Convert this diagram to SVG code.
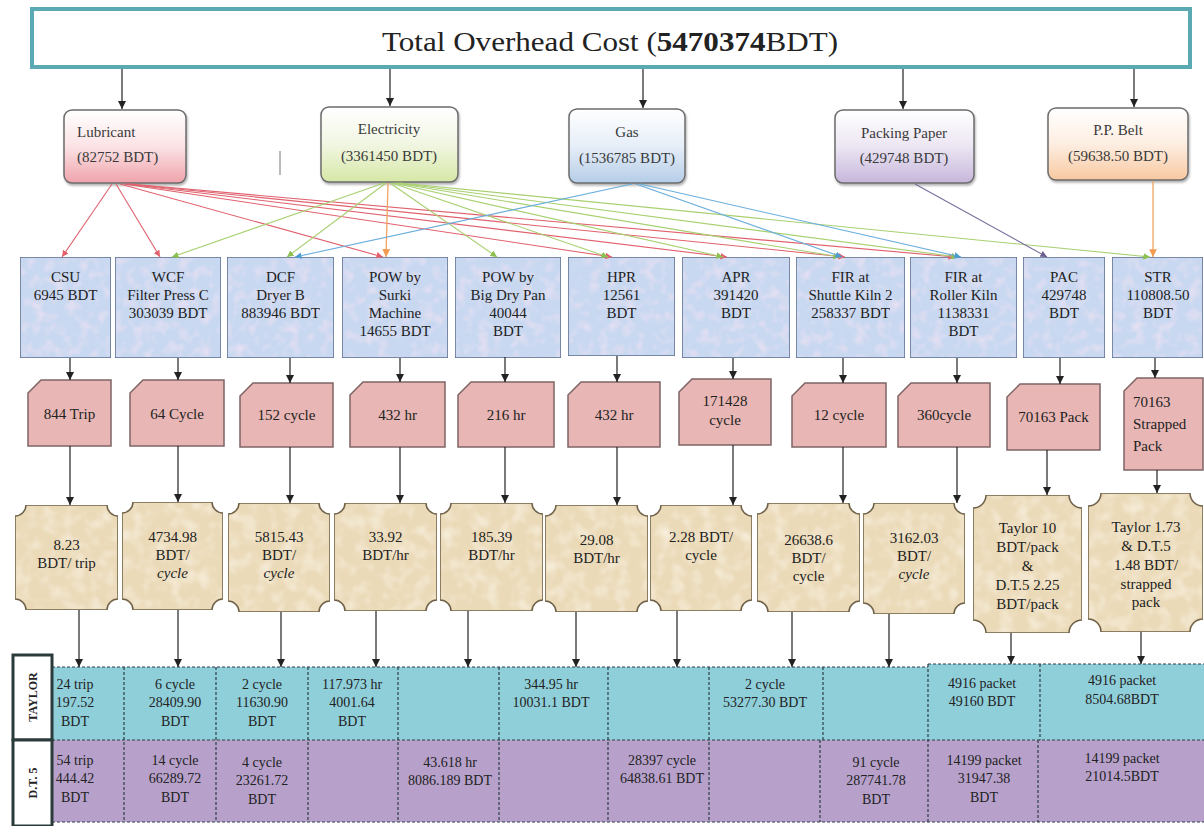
<svg xmlns="http://www.w3.org/2000/svg" width="1204" height="826" viewBox="0 0 1204 826">
<style>
text{font-family:"Liberation Serif","Times New Roman",serif;fill:#222;}
.cat{font-size:15px;fill:#3a3a3a;}
.act{font-size:15px;text-anchor:middle;}
.drv{font-size:15px;text-anchor:middle;}
.drvl{font-size:15px;text-anchor:start;}
.rate{font-size:15px;text-anchor:middle;}
.tb{font-size:14px;text-anchor:middle;}
.lbl{font-size:12px;font-weight:bold;text-anchor:middle;}
.actbox{fill:#c8d8f1;stroke:#5d6d8c;stroke-width:1.5;}
.drvbox{fill:#e8b6b4;stroke:#7e6464;stroke-width:1.5;}
.ratebox{fill:#ebdab8;stroke:#6e6048;stroke-width:1.5;}
.catbox{stroke:#6b6b6b;stroke-width:1.5;}
.blk{stroke:#222;stroke-width:1.2;fill:none;marker-end:url(#ab);}
.div{stroke:#2e3e48;stroke-width:1.2;stroke-dasharray:3 2;fill:none;}
.r{stroke:#e0626e;stroke-width:1.1;fill:none;marker-end:url(#mr);}
.g{stroke:#a8d070;stroke-width:1.1;fill:none;marker-end:url(#mg);}
.b{stroke:#6aaedc;stroke-width:1.1;fill:none;marker-end:url(#mb);}
.p{stroke:#7c6e9e;stroke-width:1.1;fill:none;marker-end:url(#mp);}
.o{stroke:#f2a460;stroke-width:1.3;fill:none;marker-end:url(#mo);}
</style>
<defs>
<marker id="ab" viewBox="0 0 10 10" refX="10" refY="5" markerWidth="7" markerHeight="7" orient="auto"><path d="M0,0 L10,5 L0,10 z" fill="#222"/></marker>
<marker id="mr" viewBox="0 0 10 10" refX="10" refY="5" markerWidth="6" markerHeight="6" orient="auto"><path d="M0,0 L10,5 L0,10 z" fill="#e0626e"/></marker>
<marker id="mg" viewBox="0 0 10 10" refX="10" refY="5" markerWidth="6" markerHeight="6" orient="auto"><path d="M0,0 L10,5 L0,10 z" fill="#8cc050"/></marker>
<marker id="mb" viewBox="0 0 10 10" refX="10" refY="5" markerWidth="6" markerHeight="6" orient="auto"><path d="M0,0 L10,5 L0,10 z" fill="#4e9ccf"/></marker>
<marker id="mp" viewBox="0 0 10 10" refX="10" refY="5" markerWidth="6" markerHeight="6" orient="auto"><path d="M0,0 L10,5 L0,10 z" fill="#6c5e90"/></marker>
<marker id="mo" viewBox="0 0 10 10" refX="10" refY="5" markerWidth="6" markerHeight="6" orient="auto"><path d="M0,0 L10,5 L0,10 z" fill="#f29a50"/></marker>
<linearGradient id="gRed" x1="0" y1="0" x2="0" y2="1"><stop offset="0" stop-color="#ffffff"/><stop offset="0.5" stop-color="#fbe3e5"/><stop offset="1" stop-color="#efa3ab"/></linearGradient>
<linearGradient id="gGreen" x1="0" y1="0" x2="0" y2="1"><stop offset="0" stop-color="#ffffff"/><stop offset="0.5" stop-color="#f1f6e2"/><stop offset="1" stop-color="#d6e8a6"/></linearGradient>
<linearGradient id="gBlue" x1="0" y1="0" x2="0" y2="1"><stop offset="0" stop-color="#ffffff"/><stop offset="0.5" stop-color="#e6eef8"/><stop offset="1" stop-color="#b5cde8"/></linearGradient>
<linearGradient id="gPurple" x1="0" y1="0" x2="0" y2="1"><stop offset="0" stop-color="#ffffff"/><stop offset="0.5" stop-color="#ece6f3"/><stop offset="1" stop-color="#c6b6db"/></linearGradient>
<linearGradient id="gOrange" x1="0" y1="0" x2="0" y2="1"><stop offset="0" stop-color="#ffffff"/><stop offset="0.5" stop-color="#fdeee2"/><stop offset="1" stop-color="#f8c8a0"/></linearGradient>
<filter id="sh" x="-10%" y="-10%" width="125%" height="130%"><feDropShadow dx="1" dy="2" stdDeviation="1.2" flood-color="#000" flood-opacity="0.3"/></filter>
<filter id="texBlue" x="0" y="0" width="100%" height="100%">
<feTurbulence type="fractalNoise" baseFrequency="0.09" numOctaves="2" seed="4" result="n"/>
<feColorMatrix in="n" type="matrix" values="0 0 0 0 0.90  0 0 0 0 0.78  0 0 0 0 0.90  0 0 0 1.5 -0.68" result="c"/>
<feMorphology in="SourceAlpha" operator="erode" radius="2" result="m"/>
<feComposite in="c" in2="m" operator="in" result="cc"/>
<feMerge><feMergeNode in="SourceGraphic"/><feMergeNode in="cc"/></feMerge>
</filter>
<filter id="texBeige" x="0" y="0" width="100%" height="100%">
<feTurbulence type="fractalNoise" baseFrequency="0.07" numOctaves="2" seed="9" result="n"/>
<feColorMatrix in="n" type="matrix" values="0 0 0 0 0.96  0 0 0 0 0.91  0 0 0 0 0.80  0 0 0 1.4 -0.6" result="c"/>
<feMorphology in="SourceAlpha" operator="erode" radius="2" result="m"/>
<feComposite in="c" in2="m" operator="in" result="cc"/>
<feMerge><feMergeNode in="SourceGraphic"/><feMergeNode in="cc"/></feMerge>
</filter>
</defs>

<rect x="0" y="0" width="1204" height="826" fill="#ffffff"/>

<!-- Title -->
<g id="title">
<rect x="32" y="9" width="1158" height="58" fill="#ffffff" stroke="#5aa9b3" stroke-width="4"/>
<text x="610" y="51" font-size="28" text-anchor="middle" textLength="456" lengthAdjust="spacingAndGlyphs">Total Overhead Cost (<tspan font-weight="bold">5470374</tspan>BDT)</text>
</g>

<!-- Categories -->
<g id="cat-lubricant">
<rect class="catbox" x="64" y="110" width="122" height="73" rx="8" fill="url(#gRed)" filter="url(#sh)"/>
<text class="cat" x="77" y="137">Lubricant</text>
<text class="cat" x="77" y="162">(82752 BDT)</text>
</g>
<g id="cat-electricity">
<rect class="catbox" x="321" y="107" width="137" height="75" rx="8" fill="url(#gGreen)" filter="url(#sh)"/>
<text class="cat" x="389" y="134" text-anchor="middle">Electricity</text>
<text class="cat" x="389" y="161" text-anchor="middle">(3361450 BDT)</text>
</g>
<g id="cat-gas">
<rect class="catbox" x="569" y="109" width="116" height="74" rx="8" fill="url(#gBlue)" filter="url(#sh)"/>
<text class="cat" x="627" y="137" text-anchor="middle">Gas</text>
<text class="cat" x="627" y="163" text-anchor="middle">(1536785 BDT)</text>
</g>
<g id="cat-packing">
<rect class="catbox" x="835" y="110" width="139" height="73" rx="8" fill="url(#gPurple)" filter="url(#sh)"/>
<text class="cat" x="904" y="138" text-anchor="middle">Packing Paper</text>
<text class="cat" x="904" y="163" text-anchor="middle">(429748 BDT)</text>
</g>
<g id="cat-ppbelt">
<rect class="catbox" x="1048" y="108" width="140" height="72" rx="8" fill="url(#gOrange)" filter="url(#sh)"/>
<text class="cat" x="1118" y="135" text-anchor="middle">P.P. Belt</text>
<text class="cat" x="1118" y="161" text-anchor="middle">(59638.50 BDT)</text>
</g>
<line x1="280" y1="151" x2="280" y2="175" stroke="#777" stroke-width="1"/>

<!-- Activities -->
<g id="act-csu"><rect class="actbox" x="20" y="257" width="91" height="101" filter="url(#texBlue)"/>
<text class="act" x="65.5" y="282">CSU</text><text class="act" x="65.5" y="300">6945 BDT</text></g>
<g id="act-wcf"><rect class="actbox" x="115" y="257" width="106" height="101" filter="url(#texBlue)"/>
<text class="act" x="168" y="282">WCF</text><text class="act" x="168" y="300">Filter Press C</text><text class="act" x="168" y="318">303039 BDT</text></g>
<g id="act-dcf"><rect class="actbox" x="227" y="257" width="107" height="101" filter="url(#texBlue)"/>
<text class="act" x="280.5" y="282">DCF</text><text class="act" x="280.5" y="300">Dryer B</text><text class="act" x="280.5" y="318">883946 BDT</text></g>
<g id="act-pow-surki"><rect class="actbox" x="342" y="257" width="106" height="101" filter="url(#texBlue)"/>
<text class="act" x="395" y="282">POW by</text><text class="act" x="395" y="300">Surki</text><text class="act" x="395" y="318">Machine</text><text class="act" x="395" y="336">14655 BDT</text></g>
<g id="act-pow-pan"><rect class="actbox" x="455" y="257" width="106" height="101" filter="url(#texBlue)"/>
<text class="act" x="508" y="282">POW by</text><text class="act" x="508" y="300">Big Dry Pan</text><text class="act" x="508" y="318">40044</text><text class="act" x="508" y="336">BDT</text></g>
<g id="act-hpr"><rect class="actbox" x="568" y="257" width="107" height="99" filter="url(#texBlue)"/>
<text class="act" x="621.5" y="282">HPR</text><text class="act" x="621.5" y="300">12561</text><text class="act" x="621.5" y="318">BDT</text></g>
<g id="act-apr"><rect class="actbox" x="682" y="257" width="108" height="101" filter="url(#texBlue)"/>
<text class="act" x="736" y="282">APR</text><text class="act" x="736" y="300">391420</text><text class="act" x="736" y="318">BDT</text></g>
<g id="act-fir-shuttle"><rect class="actbox" x="796" y="257" width="109" height="101" filter="url(#texBlue)"/>
<text class="act" x="850.5" y="282">FIR at</text><text class="act" x="850.5" y="300">Shuttle Kiln 2</text><text class="act" x="850.5" y="318">258337 BDT</text></g>
<g id="act-fir-roller"><rect class="actbox" x="910" y="257" width="107" height="101" filter="url(#texBlue)"/>
<text class="act" x="963.5" y="282">FIR at</text><text class="act" x="963.5" y="300">Roller Kiln</text><text class="act" x="963.5" y="318">1138331</text><text class="act" x="963.5" y="336">BDT</text></g>
<g id="act-pac"><rect class="actbox" x="1023" y="257" width="82" height="101" filter="url(#texBlue)"/>
<text class="act" x="1064" y="282">PAC</text><text class="act" x="1064" y="300">429748</text><text class="act" x="1064" y="318">BDT</text></g>
<g id="act-str"><rect class="actbox" x="1112" y="257" width="91" height="101" filter="url(#texBlue)"/>
<text class="act" x="1158" y="282">STR</text><text class="act" x="1158" y="300">110808.50</text><text class="act" x="1158" y="318">BDT</text></g>

<!-- Drivers -->
<g id="drv-1"><path class="drvbox" d="M41,380 H111 V446 H28 V393 Z"/><text class="drv" x="69.5" y="419">844 Trip</text></g>
<g id="drv-2"><path class="drvbox" d="M143,380 H224 V446 H130 V393 Z"/><text class="drv" x="177" y="419">64 Cycle</text></g>
<g id="drv-3"><path class="drvbox" d="M253,383 H333 V447 H240 V396 Z"/><text class="drv" x="286.5" y="420">152 cycle</text></g>
<g id="drv-4"><path class="drvbox" d="M363,382 H445 V447 H350 V395 Z"/><text class="drv" x="397.5" y="420">432 hr</text></g>
<g id="drv-5"><path class="drvbox" d="M471,382 H554 V447 H458 V395 Z"/><text class="drv" x="506" y="420">216 hr</text></g>
<g id="drv-6"><path class="drvbox" d="M581,382 H660 V447 H568 V395 Z"/><text class="drv" x="614" y="420">432 hr</text></g>
<g id="drv-7"><path class="drvbox" d="M692,379 H771 V445 H679 V392 Z"/><text class="drv" x="725" y="406">171428</text><text class="drv" x="725" y="425">cycle</text></g>
<g id="drv-8"><path class="drvbox" d="M805,383 H886 V447 H792 V396 Z"/><text class="drv" x="839" y="420">12 cycle</text></g>
<g id="drv-9"><path class="drvbox" d="M911,383 H990 V447 H898 V396 Z"/><text class="drv" x="944" y="420">360cycle</text></g>
<g id="drv-10"><path class="drvbox" d="M1020,384 H1100 V450 H1007 V397 Z"/><text class="drv" x="1053.5" y="422">70163 Pack</text></g>
<g id="drv-11"><path class="drvbox" d="M1137,378 H1203 V470 H1124 V391 Z"/><text class="drvl" x="1133" y="407">70163</text><text class="drvl" x="1133" y="429">Strapped</text><text class="drvl" x="1133" y="451">Pack</text></g>

<!-- Rates -->
<g id="rate-1"><path class="ratebox" filter="url(#texBeige)" d="M26,505 H107 A11,11 0 0 0 118,516 V599 A11,11 0 0 0 107,610 H26 A11,11 0 0 0 15,599 V516 A11,11 0 0 0 26,505 Z"/>
<text class="rate" x="66.5" y="550">8.23</text><text class="rate" x="66.5" y="568">BDT/ trip</text></g>
<g id="rate-2"><path class="ratebox" filter="url(#texBeige)" d="M133,502 H212 A11,11 0 0 0 223,513 V599 A11,11 0 0 0 212,610 H133 A11,11 0 0 0 122,599 V513 A11,11 0 0 0 133,502 Z"/>
<text class="rate" x="172.5" y="542">4734.98</text><text class="rate" x="172.5" y="560">BDT/</text><text class="rate" x="172.5" y="578" font-style="italic">cycle</text></g>
<g id="rate-3"><path class="ratebox" filter="url(#texBeige)" d="M239,503 H319 A11,11 0 0 0 330,514 V601 A11,11 0 0 0 319,612 H239 A11,11 0 0 0 228,601 V514 A11,11 0 0 0 239,503 Z"/>
<text class="rate" x="279" y="542">5815.43</text><text class="rate" x="279" y="560">BDT/</text><text class="rate" x="279" y="578" font-style="italic">cycle</text></g>
<g id="rate-4"><path class="ratebox" filter="url(#texBeige)" d="M345,503 H426 A11,11 0 0 0 437,514 V600 A11,11 0 0 0 426,611 H345 A11,11 0 0 0 334,600 V514 A11,11 0 0 0 345,503 Z"/>
<text class="rate" x="385.5" y="542">33.92</text><text class="rate" x="385.5" y="560">BDT/hr</text></g>
<g id="rate-5"><path class="ratebox" filter="url(#texBeige)" d="M451,503 H532 A11,11 0 0 0 543,514 V600 A11,11 0 0 0 532,611 H451 A11,11 0 0 0 440,600 V514 A11,11 0 0 0 451,503 Z"/>
<text class="rate" x="491.5" y="542">185.39</text><text class="rate" x="491.5" y="560">BDT/hr</text></g>
<g id="rate-6"><path class="ratebox" filter="url(#texBeige)" d="M556,505 H637 A11,11 0 0 0 648,516 V601 A11,11 0 0 0 637,612 H556 A11,11 0 0 0 545,601 V516 A11,11 0 0 0 556,505 Z"/>
<text class="rate" x="596.5" y="545">29.08</text><text class="rate" x="596.5" y="563">BDT/hr</text></g>
<g id="rate-7"><path class="ratebox" filter="url(#texBeige)" d="M661,505 H741 A11,11 0 0 0 752,516 V600 A11,11 0 0 0 741,611 H661 A11,11 0 0 0 650,600 V516 A11,11 0 0 0 661,505 Z"/>
<text class="rate" x="701" y="542">2.28 BDT/</text><text class="rate" x="701" y="560">cycle</text></g>
<g id="rate-8"><path class="ratebox" filter="url(#texBeige)" d="M768,503 H849 A11,11 0 0 0 860,514 V601 A11,11 0 0 0 849,612 H768 A11,11 0 0 0 757,601 V514 A11,11 0 0 0 768,503 Z"/>
<text class="rate" x="808.5" y="545">26638.6</text><text class="rate" x="808.5" y="563">BDT/</text><text class="rate" x="808.5" y="581">cycle</text></g>
<g id="rate-9"><path class="ratebox" filter="url(#texBeige)" d="M874,503 H954 A11,11 0 0 0 965,514 V603 A11,11 0 0 0 954,614 H874 A11,11 0 0 0 863,603 V514 A11,11 0 0 0 874,503 Z"/>
<text class="rate" x="914" y="543">3162.03</text><text class="rate" x="914" y="561">BDT/</text><text class="rate" x="914" y="579" font-style="italic">cycle</text></g>
<g id="rate-10"><path class="ratebox" filter="url(#texBeige)" d="M986,495 H1069 A13,13 0 0 0 1082,508 V620 A13,13 0 0 0 1069,633 H986 A13,13 0 0 0 973,620 V508 A13,13 0 0 0 986,495 Z"/>
<text class="rate" x="1027.5" y="533">Taylor 10</text><text class="rate" x="1027.5" y="552">BDT/pack</text><text class="rate" x="1027.5" y="571">&amp;</text><text class="rate" x="1027.5" y="590">D.T.5 2.25</text><text class="rate" x="1027.5" y="609">BDT/pack</text></g>
<g id="rate-11"><path class="ratebox" filter="url(#texBeige)" d="M1101,493 H1190 A13,13 0 0 0 1203,506 V619 A13,13 0 0 0 1190,632 H1101 A13,13 0 0 0 1088,619 V506 A13,13 0 0 0 1101,493 Z"/>
<text class="rate" x="1146" y="532">Taylor 1.73</text><text class="rate" x="1146" y="551">&amp; D.T.5</text><text class="rate" x="1146" y="570">1.48 BDT/</text><text class="rate" x="1146" y="589">strapped</text><text class="rate" x="1146" y="607">pack</text></g>

<!-- Table -->
<g id="table">
<rect x="52" y="667" width="1152" height="73" fill="#8fcfda"/>
<rect x="928" y="664" width="276" height="4" fill="#8fcfda"/>
<rect x="52" y="740" width="1152" height="82" fill="#b7a1cb"/>
<line class="div" x1="52" y1="667" x2="928" y2="667"/>
<line class="div" x1="928" y1="664" x2="1204" y2="664"/>
<line class="div" x1="52" y1="740" x2="1204" y2="740"/>
<line class="div" x1="52" y1="822" x2="1204" y2="822"/>
<line class="div" x1="124" y1="667" x2="124" y2="822"/>
<line class="div" x1="216" y1="667" x2="216" y2="822"/>
<line class="div" x1="308" y1="667" x2="308" y2="822"/>
<line class="div" x1="398" y1="667" x2="398" y2="822"/>
<line class="div" x1="499" y1="667" x2="499" y2="822"/>
<line class="div" x1="608" y1="667" x2="608" y2="822"/>
<line class="div" x1="709" y1="667" x2="709" y2="822"/>
<line class="div" x1="823" y1="667" x2="823" y2="740"/>
<line class="div" x1="820" y1="740" x2="820" y2="822"/>
<line class="div" x1="928" y1="664" x2="928" y2="822"/>
<line class="div" x1="1040" y1="664" x2="1040" y2="740"/>
<line class="div" x1="1038" y1="740" x2="1038" y2="822"/>
<!-- Taylor row -->
<text class="tb" x="75" y="689">24 trip</text><text class="tb" x="75" y="707">197.52</text><text class="tb" x="75" y="726">BDT</text>
<text class="tb" x="175" y="689">6 cycle</text><text class="tb" x="175" y="707">28409.90</text><text class="tb" x="175" y="726">BDT</text>
<text class="tb" x="262" y="689">2 cycle</text><text class="tb" x="262" y="707">11630.90</text><text class="tb" x="262" y="726">BDT</text>
<text class="tb" x="352" y="689">117.973 hr</text><text class="tb" x="352" y="707">4001.64</text><text class="tb" x="352" y="726">BDT</text>
<text class="tb" x="551" y="689">344.95 hr</text><text class="tb" x="551" y="707">10031.1 BDT</text>
<text class="tb" x="765" y="689">2 cycle</text><text class="tb" x="765" y="707">53277.30 BDT</text>
<text class="tb" x="982" y="688">4916 packet</text><text class="tb" x="982" y="706">49160 BDT</text>
<text class="tb" x="1122" y="685">4916 packet</text><text class="tb" x="1122" y="704">8504.68BDT</text>
<!-- D.T.5 row -->
<text class="tb" x="75" y="765">54 trip</text><text class="tb" x="75" y="783">444.42</text><text class="tb" x="75" y="802">BDT</text>
<text class="tb" x="175" y="765">14 cycle</text><text class="tb" x="175" y="783">66289.72</text><text class="tb" x="175" y="802">BDT</text>
<text class="tb" x="262" y="767">4 cycle</text><text class="tb" x="262" y="785">23261.72</text><text class="tb" x="262" y="804">BDT</text>
<text class="tb" x="450" y="767">43.618 hr</text><text class="tb" x="450" y="785" font-size="13.5">8086.189 BDT</text>
<text class="tb" x="662" y="765">28397 cycle</text><text class="tb" x="662" y="783">64838.61 BDT</text>
<text class="tb" x="876" y="767">91 cycle</text><text class="tb" x="876" y="785">287741.78</text><text class="tb" x="876" y="804">BDT</text>
<text class="tb" x="984" y="765">14199 packet</text><text class="tb" x="984" y="783">31947.38</text><text class="tb" x="984" y="802">BDT</text>
<text class="tb" x="1122" y="763">14199 packet</text><text class="tb" x="1122" y="781">21014.5BDT</text>
</g>
<g id="label-taylor">
<rect x="13" y="655" width="39" height="85" fill="#ffffff" stroke="#2b3b3b" stroke-width="3"/>
<text class="lbl" transform="translate(37,697) rotate(-90)">TAYLOR</text>
</g>
<g id="label-dt5">
<rect x="13" y="740" width="39" height="86" fill="#ffffff" stroke="#2b3b3b" stroke-width="3"/>
<text class="lbl" transform="translate(37,783) rotate(-90)">D.T. 5</text>
</g>

<!-- Connectors -->
<g id="connectors">
<!-- title to categories -->
<line class="blk" x1="122" y1="69" x2="122" y2="109"/>
<line class="blk" x1="390" y1="69" x2="390" y2="106"/>
<line class="blk" x1="643" y1="69" x2="643" y2="108"/>
<line class="blk" x1="903" y1="69" x2="903" y2="109"/>
<line class="blk" x1="1134" y1="69" x2="1134" y2="107"/>
<!-- lubricant -->
<line class="r" x1="112" y1="184" x2="62" y2="257"/>
<line class="r" x1="116" y1="184" x2="160" y2="257"/>
<line class="r" x1="120" y1="184" x2="383" y2="257"/>
<line class="r" x1="124" y1="184" x2="612" y2="257"/>
<line class="r" x1="126" y1="184" x2="727" y2="257"/>
<line class="r" x1="128" y1="184" x2="845" y2="257"/>
<line class="r" x1="130" y1="184" x2="955" y2="257"/>
<!-- electricity -->
<line class="g" x1="384" y1="183" x2="172" y2="257"/>
<line class="g" x1="386" y1="183" x2="287" y2="257"/>
<line class="o" x1="388" y1="183" x2="386" y2="257"/>
<line class="g" x1="390" y1="183" x2="497" y2="257"/>
<line class="g" x1="392" y1="183" x2="608" y2="257"/>
<line class="g" x1="394" y1="183" x2="723" y2="257"/>
<line class="g" x1="396" y1="183" x2="840" y2="257"/>
<line class="g" x1="398" y1="183" x2="958" y2="257"/>
<line class="g" x1="400" y1="183" x2="1150" y2="257"/>
<!-- gas -->
<line class="b" x1="632" y1="184" x2="295" y2="257"/>
<line class="b" x1="636" y1="184" x2="842" y2="257"/>
<line class="b" x1="640" y1="184" x2="961" y2="257"/>
<!-- packing paper -->
<line class="p" x1="915" y1="184" x2="1047" y2="257"/>
<!-- pp belt -->
<line class="o" x1="1153" y1="181" x2="1153" y2="257"/>
<!-- activity to driver -->
<line class="blk" x1="70" y1="358" x2="70" y2="380"/>
<line class="blk" x1="178" y1="358" x2="178" y2="380"/>
<line class="blk" x1="290" y1="358" x2="290" y2="383"/>
<line class="blk" x1="400" y1="358" x2="400" y2="382"/>
<line class="blk" x1="505" y1="357" x2="505" y2="382"/>
<line class="blk" x1="617" y1="356" x2="617" y2="382"/>
<line class="blk" x1="733" y1="358" x2="733" y2="379"/>
<line class="blk" x1="843" y1="358" x2="843" y2="383"/>
<line class="blk" x1="957" y1="358" x2="957" y2="383"/>
<line class="blk" x1="1060" y1="358" x2="1060" y2="384"/>
<line class="blk" x1="1155" y1="358" x2="1155" y2="378"/>
<!-- driver to rate -->
<line class="blk" x1="70" y1="446" x2="70" y2="505"/>
<line class="blk" x1="178" y1="446" x2="178" y2="502"/>
<line class="blk" x1="290" y1="447" x2="290" y2="503"/>
<line class="blk" x1="400" y1="447" x2="400" y2="503"/>
<line class="blk" x1="505" y1="447" x2="505" y2="503"/>
<line class="blk" x1="617" y1="447" x2="617" y2="505"/>
<line class="blk" x1="733" y1="445" x2="733" y2="505"/>
<line class="blk" x1="843" y1="447" x2="843" y2="503"/>
<line class="blk" x1="957" y1="447" x2="957" y2="503"/>
<line class="blk" x1="1047" y1="450" x2="1047" y2="495"/>
<line class="blk" x1="1157" y1="470" x2="1157" y2="493"/>
<!-- rate to table -->
<line class="blk" x1="79" y1="610" x2="79" y2="667"/>
<line class="blk" x1="178" y1="610" x2="178" y2="667"/>
<line class="blk" x1="281" y1="612" x2="281" y2="667"/>
<line class="blk" x1="376" y1="611" x2="376" y2="667"/>
<line class="blk" x1="468" y1="611" x2="468" y2="667"/>
<line class="blk" x1="576" y1="612" x2="576" y2="667"/>
<line class="blk" x1="677" y1="611" x2="677" y2="667"/>
<line class="blk" x1="792" y1="612" x2="792" y2="667"/>
<line class="blk" x1="889" y1="614" x2="889" y2="667"/>
<line class="blk" x1="1011" y1="633" x2="1011" y2="664"/>
<line class="blk" x1="1141" y1="632" x2="1141" y2="664"/>
</g>
</svg>
